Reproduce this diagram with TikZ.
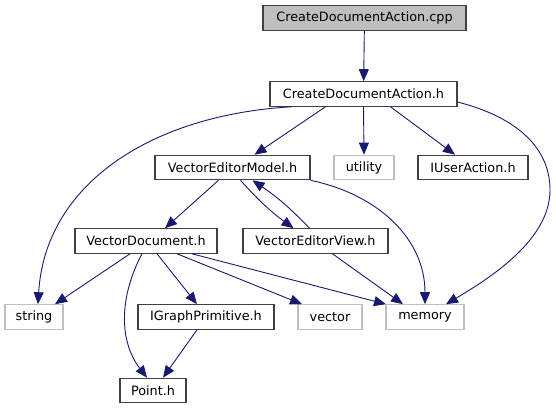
\documentclass[tikz,border=0pt]{standalone}
\usepackage{fontspec}
\setmainfont{DejaVu Sans}
\usepackage{xcolor}
\usetikzlibrary{arrows.meta,positioning}
\definecolor{incEdge}{HTML}{191970}
\definecolor{incGrey}{HTML}{BFBFBF}
\definecolor{incLine}{HTML}{404040}
\tikzset{
  incnode/.style={
    draw, inner sep=0pt, minimum height=24.5pt, line width=1.1pt,
    font=\fontsize{12.8}{14}\selectfont, anchor=center
  },
  filenode/.style={incnode, draw=incLine, fill=white},
  sysnode/.style={incnode, draw=incGrey, fill=white},
  rootnode/.style={incnode, draw=incLine, fill=incGrey},
  dep/.style={-{Triangle[length=12pt, width=10pt]}, line width=0.9pt, incEdge}
}
\begin{document}
\begin{tikzpicture}[x=1pt, y=-1pt]
  \useasboundingbox (0,0) rectangle (556,411);
  % top level
  \node[rootnode, minimum width=203pt] (cpp) at (364.5,18) {CreateDocumentAction.cpp};
  \node[filenode, minimum width=187pt] (cda) at (363.5,94) {CreateDocumentAction.h};
  % second row
  \node[filenode, minimum width=155pt] (vem) at (232.5,167.5) {VectorEditorModel.h};
  \node[sysnode, minimum width=60pt] (utility) at (364,167.5) {utility};
  \node[filenode, minimum width=110pt] (iua) at (473,167.5) {IUserAction.h};
  % third row
  \node[filenode, minimum width=142pt] (vd) at (146,241) {VectorDocument.h};
  \node[filenode, minimum width=145pt] (vev) at (315.5,241) {VectorEditorView.h};
  % fourth row
  \node[sysnode, minimum width=58pt] (string) at (34,317) {string};
  \node[filenode, minimum width=136pt] (igp) at (206,317) {IGraphPrimitive.h};
  \node[sysnode, minimum width=64pt] (vector) at (330,317) {vector};
  \node[sysnode, minimum width=78pt] (memory) at (425,317) {memory};
  \node[filenode, minimum width=66pt] (point) at (153,390.5) {Point.h};

  \draw[dep] (cpp) -- (cda);
  \draw[dep] ([xshift=-72pt]cda.south) .. controls (150,115) and (45,185) .. ([xshift=4pt]string.north);
  \draw[dep] ([xshift=-38pt]cda.south) -- ([xshift=22pt]vem.north);
  \draw[dep] (cda.south) -- (utility.north);
  \draw[dep] ([xshift=27pt]cda.south) -- ([xshift=-18pt]iua.north);
  \draw[dep] ([yshift=-8pt]cda.east) .. controls (520,118) and (550,150) .. (550,190)
    .. controls (550,240) and (490,278) .. ([xshift=21pt]memory.north);

  \draw[dep] ([xshift=-14pt]vem.south) -- ([xshift=19pt]vd.north);
  \draw[dep] ([xshift=8pt]vem.south) to[bend right=6] ([xshift=-22pt]vev.north);
  \draw[dep] ([xshift=-6pt]vev.north) to[bend right=6] ([xshift=20pt]vem.south);
  \draw[dep] (vem.south east) .. controls (380,195) and (425,240) .. (memory.north);

  \draw[dep] ([xshift=-16pt]vd.south) -- ([xshift=21pt]string.north);
  \draw[dep] ([xshift=-4pt]vd.south) .. controls (120,295) and (118,340) .. ([xshift=-6pt]point.north);
  \draw[dep] ([xshift=11pt]vd.south) -- ([xshift=-9pt]igp.north);
  \draw[dep] ([xshift=31pt]vd.south) -- ([xshift=-28pt]vector.north);
  \draw[dep] ([xshift=46pt]vd.south) -- ([xshift=-39pt]memory.north);
  \draw[dep] ([xshift=17pt]vev.south) -- ([xshift=-22pt]memory.north);

  \draw[dep] ([xshift=-9pt]igp.south) -- ([xshift=10pt]point.north);
\end{tikzpicture}
\end{document}
